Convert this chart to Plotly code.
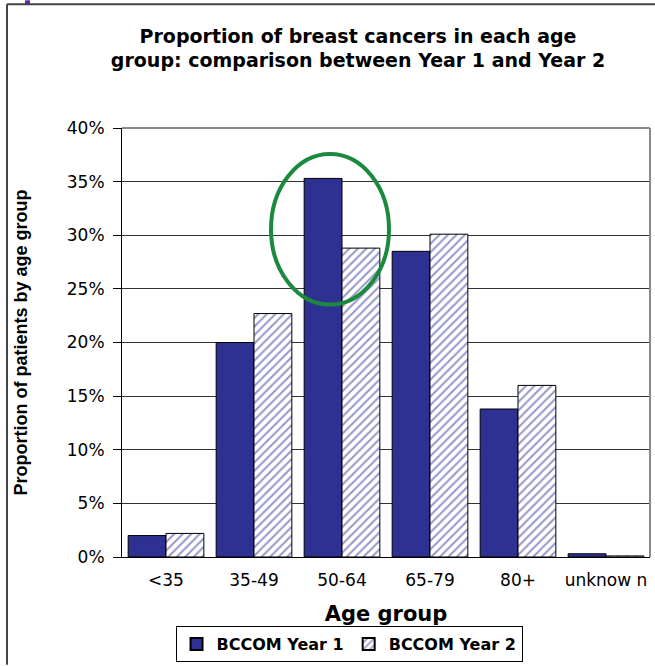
import plotly.graph_objects as go

categories = ["<35", "35-49", "50-64", "65-79", "80+", "unknow n"]
year1 = [0.020, 0.200, 0.353, 0.285, 0.138, 0.003]
year2 = [0.022, 0.227, 0.288, 0.301, 0.160, 0.001]
series_names = ["BCCOM Year 1", "BCCOM Year 2"]
y_ticks = [0, 0.05, 0.10, 0.15, 0.20, 0.25, 0.30, 0.35, 0.40]

NAVY = "#2E3192"

fig = go.Figure()
fig.add_trace(go.Bar(
    x=categories, y=year1, name=series_names[0],
    marker=dict(color=NAVY, line=dict(color="black", width=1)),
))
fig.add_trace(go.Bar(
    x=categories, y=year2, name=series_names[1],
    marker=dict(color="white", line=dict(color="black", width=1),
                pattern=dict(shape="/", fgcolor=NAVY, bgcolor="white",
                             size=6, solidity=0.35, fillmode="overlay")),
))

fig.update_layout(
    width=655, height=666,
    margin=dict(l=122, r=5, t=128, b=108),
    paper_bgcolor="white", plot_bgcolor="white",
    barmode="group", bargap=0.14, bargroupgap=0,
    font=dict(family="DejaVu Sans", color="black"),
    title=dict(
        text="<b>Proportion of breast cancers in each age<br>group: comparison between Year 1 and Year 2</b>",
        font=dict(family="DejaVu Sans", size=19, color="black"),
        x=0.447, xref="paper", xanchor="center",
        y=1 - 42.5 / 666, yref="container", yanchor="middle",
    ),
    showlegend=True,
    legend=dict(
        orientation="h", x=0.43, y=-0.2, xanchor="center", yanchor="middle",
        bordercolor="black", borderwidth=1, bgcolor="white",
        font=dict(family="DejaVu Sans", size=16, color="black", weight="bold"),
        itemsizing="constant", tracegroupgap=0,
    ),
    xaxis=dict(
        showline=True, linecolor="black", linewidth=1,
        ticks="", tickfont=dict(size=17, family="DejaVu Sans"),
        ticklabelstandoff=8,
        title=dict(text="<b>Age group</b>", font=dict(size=21, family="DejaVu Sans"), standoff=16),
        showgrid=False,
    ),
    yaxis=dict(
        range=[0, 0.4], tickvals=y_ticks, tickformat=".0%",
        showline=True, linecolor="black", linewidth=1,
        ticks="outside", ticklen=8, tickcolor="black",
        tickfont=dict(size=17, family="DejaVu Sans"),
        ticklabelstandoff=5,
        showgrid=True, gridcolor="#333333", gridwidth=1,
        title=dict(text="<b>Proportion of patients by age group</b>",
                   font=dict(size=18, family="Liberation Sans"), standoff=34),
        zeroline=False,
    ),
)

# plot-area gray border (top and right)
fig.add_shape(type="line", xref="paper", yref="paper", x0=0, x1=1, y0=1, y1=1,
              line=dict(color="#8a8a8a", width=2))
fig.add_shape(type="line", xref="paper", yref="paper", x0=1, x1=1, y0=0, y1=1,
              line=dict(color="#8a8a8a", width=2))

# outer slide frame
fig.add_shape(type="line", xref="paper", yref="paper",
              x0=(7 - 122) / 528, x1=(655 - 122) / 528, y0=(558 - 4) / 430, y1=(558 - 4) / 430,
              line=dict(color="#444444", width=2))
fig.add_shape(type="line", xref="paper", yref="paper",
              x0=(7 - 122) / 528, x1=(7 - 122) / 528, y0=(558 - 4) / 430, y1=(558 - 666) / 430,
              line=dict(color="#444444", width=2))
fig.add_shape(type="rect", xref="paper", yref="paper",
              x0=(25 - 122) / 528, x1=(30 - 122) / 528, y0=(558 - 0) / 430, y1=(558 - 4) / 430,
              line=dict(width=0), fillcolor="#5B2C91")

# green ellipse highlight
fig.add_shape(type="circle", xref="paper", yref="paper",
              x0=(271 - 122) / 528, x1=(389 - 122) / 528,
              y0=(558 - 305) / 430, y1=(558 - 154) / 430,
              line=dict(color="#1B8A3F", width=4))

fig.write_html("out.html", config={"displayModeBar": False},
               post_script="document.body.style.margin='0';document.body.style.overflow='hidden';")
